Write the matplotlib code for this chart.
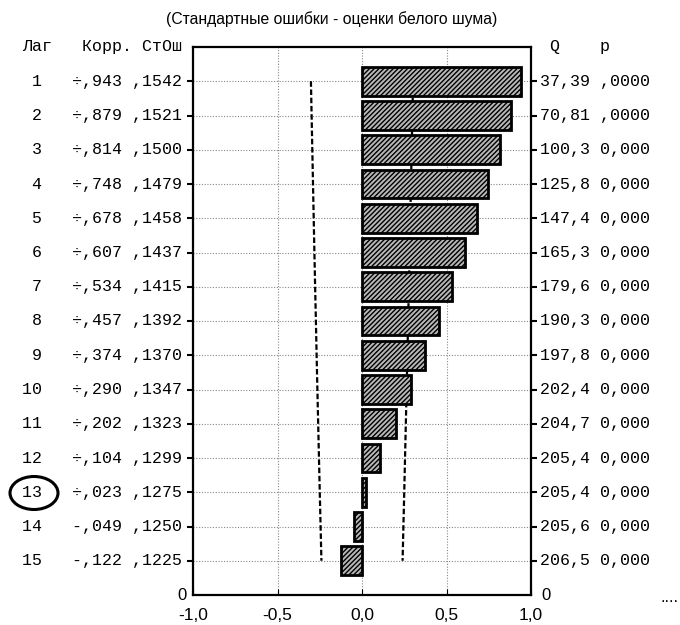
import numpy as np
import matplotlib
matplotlib.use("Agg")
from matplotlib import pyplot as plt
from matplotlib import transforms
from matplotlib.patches import Ellipse

# autocorrelation table (values as printed in the reference)
lags = list(range(1, 16))
corr = [0.943, 0.879, 0.814, 0.748, 0.678, 0.607, 0.534, 0.457,
        0.374, 0.290, 0.202, 0.104, 0.023, -0.049, -0.122]
std_err = [0.1542, 0.1521, 0.1500, 0.1479, 0.1458, 0.1437, 0.1415, 0.1392,
           0.1370, 0.1347, 0.1323, 0.1299, 0.1275, 0.1250, 0.1225]
q_labels = ["37,39", "70,81", "100,3", "125,8", "147,4", "165,3", "179,6", "190,3",
            "197,8", "202,4", "204,7", "205,4", "205,4", "205,6", "206,5"]
p_labels = [",0000", ",0000"] + ["0,000"] * 13
x_ticks = [-1.0, -0.5, 0.0, 0.5, 1.0]
x_tick_labels = ["-1,0", "-0,5", "0,0", "0,5", "1,0"]

W, H = 680, 625
mono = ["Liberation Mono", "DejaVu Sans Mono"]
sans = ["Liberation Sans", "DejaVu Sans"]

plt.rcParams["hatch.linewidth"] = 1.0

fig = plt.figure(figsize=(6.8, 6.25), dpi=100)
ax = fig.add_axes([193 / W, 1 - 595 / H, 338 / W, 548 / H])

# white-noise limits
limit = 1.96 * np.array(std_err)
ax.plot(-limit, lags, color="black", lw=1.6, ls=(0, (2.5, 1.2)), zorder=2)
ax.plot(limit, lags, color="black", lw=1.6, ls=(0, (2.5, 1.2)), zorder=2)

ax.barh(lags, corr, height=0.84, left=0, color="#b8b8b8", edgecolor="black",
        linewidth=2.0, hatch="///////", zorder=3)

ax.set_xlim(-1.0, 1.0)
ax.set_ylim(16, 0)
ax.set_yticks(lags)
ax.set_yticklabels([])
ax.set_xticks(x_ticks)
ax.set_xticklabels(x_tick_labels, family=sans, fontsize=12.5)
ax.tick_params(axis="x", direction="in", length=4, pad=9)
ax.tick_params(axis="y", direction="out", length=4, width=1.5, left=True, right=True)
ax.grid(True, color="#888888", ls=(0, (1, 1.5)), lw=0.8, zorder=0)
for s in ax.spines.values():
    s.set_linewidth(1.6)

fig.text(332 / W, 1 - 19 / H, "(Стандартные ошибки - оценки белого шума)",
         ha="center", va="center", family=sans, fontsize=11.3)

# side tables
tr = transforms.blended_transform_factory(fig.transFigure, ax.transData)
fig.text(22 / W, 0, "Лаг   Корр. СтОш", transform=tr, family=mono, fontsize=12,
         va="center", ha="left")
fig.text(540 / W, 0, " Q    p", transform=tr, family=mono, fontsize=12,
         va="center", ha="left")
for lag, c, s, q, p in zip(lags, corr, std_err, q_labels, p_labels):
    sign = "÷" if c >= 0 else "-"
    left = f"{lag:2d}   {sign},{abs(c) * 1000:03.0f} ,{s * 10000:.0f}"
    fig.text(22 / W, lag, left, transform=tr, family=mono, fontsize=12,
             va="center", ha="left")
    fig.text(540 / W, lag, f"{q} {p}", transform=tr, family=mono, fontsize=12,
             va="center", ha="left")
fig.text(187 / W, 16, "0", transform=tr, family=sans, fontsize=12, va="center", ha="right")
fig.text(541 / W, 16, "0", transform=tr, family=sans, fontsize=12, va="center", ha="left")
fig.text(660 / W, 1 - 598 / H, "....", family=sans, fontsize=12, va="center", ha="left")

# hand-drawn circle around lag 13
fig.add_artist(Ellipse((34 / W, 1 - 493 / H), 48 / W, 33 / H, fill=False,
                       edgecolor="black", lw=2.2, transform=fig.transFigure))

fig.savefig("out.png", dpi=100, facecolor="white")
